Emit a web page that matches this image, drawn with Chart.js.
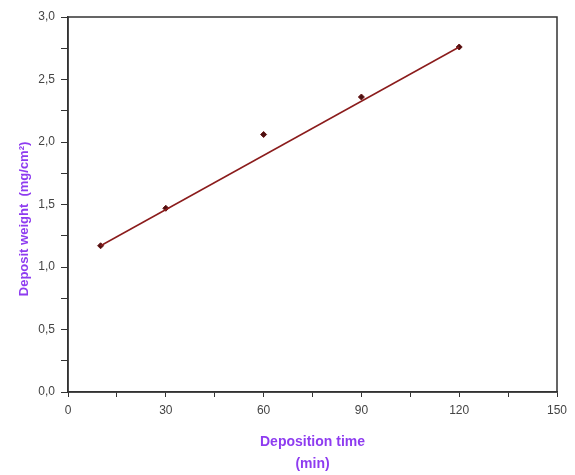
<!DOCTYPE html>
<html>
<head>
<meta charset="utf-8">
<script src="https://cdn.jsdelivr.net/npm/chart.js@4/dist/chart.umd.min.js"></script>
<style>
  html, body { margin: 0; padding: 0; background: #fff; }
  #wrap { width: 575px; height: 475px; }
</style>
</head>
<body>
<div id="wrap"><canvas id="myChart"></canvas></div>
<script>
// Data
const depTime = [10, 30, 60, 90, 120];          // min
const depWeight = [1.17, 1.47, 2.06, 2.36, 2.76]; // mg/cm2
const fitTime = [10, 120];
const fitWeight = [1.17, 2.76];

const purple = '#8e3cf0';
const axisColor = '#333333';
const fontFam = 'Arial, "Liberation Sans", sans-serif';
const tickFont = { family: fontFam, size: 12 };

// box round the plot area
const boxPlugin = {
  id: 'box',
  afterDraw(chart) {
    const a = chart.chartArea;
    const c = chart.ctx;
    c.save();
    c.strokeStyle = axisColor;
    c.lineWidth = 1.5;
    c.strokeRect(a.left, a.top, a.right - a.left, a.bottom - a.top);
    c.restore();
  }
};

const ctx = document.getElementById('myChart').getContext('2d');
const myChart = new Chart(ctx, {
  type: 'scatter',
  data: {
    datasets: [
      {
        label: 'fit',
        data: fitTime.map((x, i) => ({ x: x, y: fitWeight[i] })),
        showLine: true,
        borderColor: '#8b1c1c',
        borderWidth: 1.5,
        pointRadius: 0,
        fill: false
      },
      {
        label: 'measured',
        data: depTime.map((x, i) => ({ x: x, y: depWeight[i] })),
        pointStyle: 'rectRot',
        pointRadius: 3,
        backgroundColor: '#4a1010',
        borderColor: '#6a1515',
        borderWidth: 1
      }
    ]
  },
  options: {
    responsive: true,
    maintainAspectRatio: false,
    animation: false,
    layout: { padding: { top: 17, right: 18, left: 13, bottom: 0 } },
    plugins: {
      legend: { display: false },
      tooltip: { enabled: false }
    },
    scales: {
      x: {
        type: 'linear',
        min: 0,
        max: 150,
        border: { color: axisColor, width: 1.5 },
        grid: { drawOnChartArea: false, drawTicks: true, tickLength: 5, color: axisColor },
        ticks: {
          stepSize: 15,
          color: '#444',
          font: tickFont,
          padding: 6,
          maxRotation: 0,
          callback: v => (v % 30 === 0 ? String(v) : '')
        },
        title: {
          display: true,
          text: ['Deposition time', '(min)'],
          color: purple,
          font: { family: fontFam, size: 14, weight: 'bold', lineHeight: 1.57 },
          padding: { top: 12, bottom: 0 }
        },
        afterFit: s => { s.height = 83; }
      },
      y: {
        type: 'linear',
        min: 0,
        max: 3,
        border: { color: axisColor, width: 1.5 },
        grid: { drawOnChartArea: false, drawTicks: true, tickLength: 7, color: axisColor },
        ticks: {
          stepSize: 0.25,
          color: '#444',
          font: tickFont,
          padding: 6,
          callback: v => (Math.abs(v * 2 - Math.round(v * 2)) < 1e-6 ? v.toFixed(1).replace('.', ',') : '')
        },
        title: {
          display: true,
          text: 'Deposit weight  (mg/cm²)\u00a0\u00a0\u00a0\u00a0\u00a0\u00a0\u00a0\u00a0',
          color: purple,
          font: { family: fontFam, size: 13, weight: 'bold' },
          padding: { top: 4, bottom: 8 }
        },
        afterFit: s => { s.width = 55; }
      }
    }
  },
  plugins: [boxPlugin]
});
</script>
</body>
</html>
